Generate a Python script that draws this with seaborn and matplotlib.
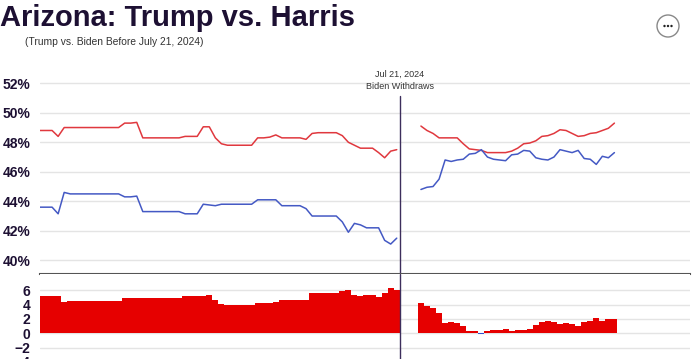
import numpy as np
import pandas as pd
import seaborn as sns
import matplotlib.pyplot as plt
import matplotlib.dates as mdates
from matplotlib.patches import Circle

# ---- data, points every 2 days ----
left_start = '2024-03-23'
right_start = '2024-07-27'

trump_left = [48.8, 48.8, 48.8, 48.4, 49.0, 49.0, 49.0, 49.0, 49.0, 49.0,
              49.0, 49.0, 49.0, 49.0, 49.3, 49.3, 49.35, 48.3, 48.3, 48.3,
              48.3, 48.3, 48.3, 48.3, 48.4, 48.4, 48.4, 49.05, 49.05, 48.3,
              47.9, 47.8, 47.8, 47.8, 47.8, 47.8, 48.3, 48.3, 48.35, 48.5,
              48.3, 48.3, 48.3, 48.3, 48.2, 48.6, 48.65, 48.65, 48.65, 48.65,
              48.45, 48.0, 47.8, 47.6, 47.6, 47.6, 47.3, 46.95, 47.4, 47.5]
dem_left = [43.6, 43.6, 43.6, 43.15, 44.6, 44.5, 44.5, 44.5, 44.5, 44.5,
            44.5, 44.5, 44.5, 44.5, 44.3, 44.3, 44.35, 43.3, 43.3, 43.3,
            43.3, 43.3, 43.3, 43.3, 43.15, 43.15, 43.15, 43.8, 43.75, 43.7,
            43.8, 43.8, 43.8, 43.8, 43.8, 43.8, 44.1, 44.1, 44.1, 44.1,
            43.7, 43.7, 43.7, 43.7, 43.5, 43.0, 43.0, 43.0, 43.0, 43.0,
            42.6, 41.9, 42.5, 42.4, 42.2, 42.2, 42.2, 41.35, 41.1, 41.5]

trump_right = [49.1, 48.8, 48.6, 48.3, 48.3, 48.3, 48.3, 47.9, 47.55, 47.5,
               47.45, 47.3, 47.3, 47.3, 47.3, 47.4, 47.6, 47.9, 47.95, 48.1,
               48.4, 48.45, 48.6, 48.85, 48.8, 48.6, 48.4, 48.45, 48.6, 48.65,
               48.8, 48.95, 49.3]
dem_right = [44.8, 44.95, 45.0, 45.5, 46.8, 46.7, 46.8, 46.85, 47.2, 47.25,
             47.5, 47.0, 46.85, 46.8, 46.75, 47.15, 47.2, 47.45, 47.4, 46.95,
             46.85, 46.8, 47.0, 47.5, 47.4, 47.3, 47.45, 46.9, 46.85, 46.5,
             47.05, 46.95, 47.3]

pct_ticks = [40, 42, 44, 46, 48, 50, 52]
margin_ticks = [-6, -4, -2, 0, 2, 4, 6]

RED_LINE = '#e0383e'
BLUE_LINE = '#4459c4'
BAR_RED = '#e60000'
BAR_BLUE = '#3050d0'
INK = '#1d1033'
EVENT = '#3d2e5c'

sns.set_theme(style='white')
plt.rcParams['font.family'] = ['Liberation Sans', 'DejaVu Sans']

dl = mdates.date2num(pd.date_range(left_start, periods=len(trump_left), freq='2D'))
dr = mdates.date2num(pd.date_range(right_start, periods=len(trump_right), freq='2D'))
event = mdates.date2num(pd.Timestamp('2024-07-21'))
xlim = (mdates.date2num(pd.Timestamp('2024-03-24')),
        mdates.date2num(pd.Timestamp('2024-10-25')))

fig = plt.figure(figsize=(6.99, 3.59), dpi=100)
ax = fig.add_axes([40 / 699, 0.236, 650 / 699, 0.5936])
axb = fig.add_axes([40 / 699, -0.0677, 650 / 699, 0.3036])

# ---- top: polling averages ----
for d, tr, dm in [(dl, trump_left, dem_left), (dr, trump_right, dem_right)]:
    sns.lineplot(x=d + 1, y=tr, ax=ax, color=RED_LINE, lw=1.1)
    sns.lineplot(x=d + 1, y=dm, ax=ax, color=BLUE_LINE, lw=1.1)

ax.set_xlim(xlim)
ax.set_ylim(39.05, 53.5)
ax.set_yticks(pct_ticks)
ax.set_yticklabels([f'{t}%' for t in pct_ticks])
ax.set_xticks([])
ax.grid(axis='y', color='#e4e4e4', lw=1)
ax.set_axisbelow(True)
for s in ['top', 'left', 'right']:
    ax.spines[s].set_visible(False)
ax.spines['bottom'].set_color('#555555')
ax.spines['bottom'].set_linewidth(1.5)
ax.tick_params(axis='y', length=0, pad=7, labelsize=10, labelcolor=INK)
for lab in ax.get_yticklabels():
    lab.set_fontweight('bold')
ax.axvline(event, ymax=0.837, color=EVENT, lw=1)
ax.text(event, 52.6, 'Jul 21, 2024', ha='center', va='center', fontsize=6.5, color='#333333')
ax.text(event, 51.75, 'Biden Withdraws', ha='center', va='center', fontsize=6.5, color='#333333')

# ---- bottom: margin bars ----
for d, tr, dm in [(dl, trump_left, dem_left), (dr, trump_right, dem_right)]:
    m = np.array(tr) - np.array(dm)
    cols = [BAR_RED if v >= 0 else BAR_BLUE for v in m]
    axb.bar(d, m, width=2, align='edge', color=cols, edgecolor='none')

axb.set_xlim(xlim)
axb.set_ylim(-7, 8.25)
axb.set_yticks(margin_ticks)
axb.set_xticks([])
axb.grid(axis='y', color='#e4e4e4', lw=1)
axb.set_axisbelow(True)
for s in ['top', 'left', 'right', 'bottom']:
    axb.spines[s].set_visible(False)
axb.tick_params(axis='y', length=0, pad=7, labelsize=10, labelcolor=INK)
for lab in axb.get_yticklabels():
    lab.set_fontweight('bold')
axb.axvline(event, color=EVENT, lw=1)

# ---- titles ----
fig.text(0.0, 0.99, 'Arizona: Trump vs. Harris', ha='left', va='top',
         fontsize=21, fontweight='bold', color=INK)
fig.text(25 / 699, 1 - 42 / 359, '(Trump vs. Biden Before July 21, 2024)', ha='left',
         va='center', fontsize=7.4, color='#333333')

# "more" button
fig.patches.append(Circle((6.68, 3.33), 0.11, transform=fig.dpi_scale_trans,
                          facecolor='white', edgecolor='#888888', lw=1))
for dx in (-0.035, 0, 0.035):
    fig.patches.append(Circle((6.68 + dx, 3.33), 0.012, transform=fig.dpi_scale_trans,
                              facecolor='#222222', edgecolor='none'))

fig.savefig('out.png', dpi=100)
